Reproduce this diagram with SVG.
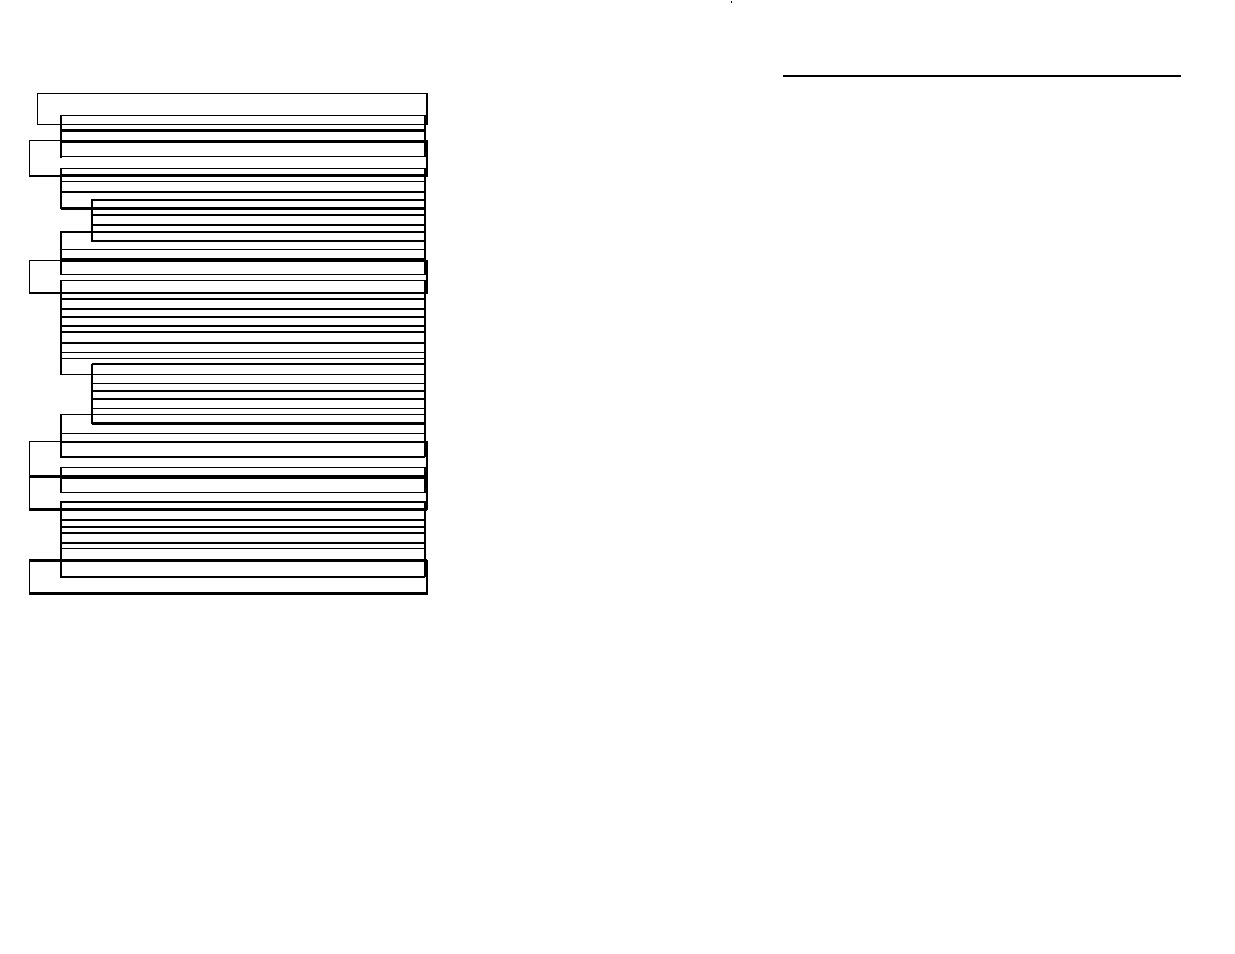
<svg xmlns="http://www.w3.org/2000/svg" width="1235" height="954" viewBox="0 0 1235 954" shape-rendering="crispEdges">
<style>
.bg{fill:#fff}
.l0{fill:none;stroke:#000;stroke-width:1.2}
.r0{fill:none;stroke:#000;stroke-width:2.5}
.blk{fill:none;stroke:#000;stroke-width:1.2}
.edge{fill:none;stroke:#000;stroke-width:2.2}
.t{stroke:#000;stroke-width:1.2}
.k{stroke:#000;stroke-width:2.2}
</style>
<rect class="bg" width="1235" height="954"/>
<g id="outer-groups">
<g id="group-a"><rect class="l0" x="37.5" y="93.5" width="389" height="31"/><line class="r0" x1="427" y1="93" x2="427" y2="125"/></g>
<g id="group-b"><rect class="l0" x="29.5" y="140.5" width="397" height="35.5"/><line class="r0" x1="427" y1="140" x2="427" y2="177"/><line class="k" x1="29" y1="176" x2="427" y2="176"/></g>
<g id="group-c"><rect class="l0" x="29.5" y="260.5" width="397" height="32.5"/><line class="r0" x1="427" y1="260" x2="427" y2="294"/><line class="k" x1="29" y1="293" x2="427" y2="293"/></g>
<g id="group-d"><rect class="l0" x="29.5" y="441.5" width="397" height="34.5"/><line class="r0" x1="427" y1="441" x2="427" y2="477"/></g>
<g id="group-e"><rect class="l0" x="29.5" y="476.5" width="397" height="33"/><line class="r0" x1="427" y1="476" x2="427" y2="510"/><line class="k" x1="29" y1="476.5" x2="427" y2="476.5"/><line class="k" x1="29" y1="509.5" x2="427" y2="509.5"/></g>
<g id="group-f"><rect class="l0" x="29.5" y="560.5" width="397" height="33"/><line class="r0" x1="427" y1="560" x2="427" y2="594"/><line class="k" x1="29" y1="560.5" x2="427" y2="560.5"/><line class="k" x1="29" y1="593.5" x2="428" y2="593.5"/></g>
</g>
<g id="block-1">
<rect class="blk" x="61" y="115.7" width="364" height="41"/><line class="edge" x1="61" y1="115" x2="61" y2="157.5"/>
<line class="t" x1="61" y1="124.3" x2="425" y2="124.3"/>
<line class="k" x1="61" y1="130.5" x2="425" y2="130.5"/>
<line class="k" x1="61" y1="141.5" x2="425" y2="141.5"/>
</g>
<g id="block-2">
<rect class="blk" x="61" y="168.3" width="364" height="40"/><line class="edge" x1="61" y1="167.7" x2="61" y2="209.3"/>
<line class="k" x1="61" y1="208.5" x2="92" y2="208.5"/>
<line class="k" x1="61" y1="175.5" x2="425" y2="175.5"/>
<line class="t" x1="61" y1="181.7" x2="425" y2="181.7"/>
<line class="k" x1="61" y1="191.7" x2="425" y2="191.7"/>
</g>
<g id="block-3">
<rect class="blk" x="92" y="200" width="333" height="41"/><line class="edge" x1="92" y1="199.2" x2="92" y2="241.5"/>
<line class="k" x1="92" y1="200" x2="425" y2="200"/>
<line class="k" x1="92" y1="208.5" x2="425" y2="208.5"/>
<line class="k" x1="92" y1="215" x2="425" y2="215"/>
<line class="k" x1="92" y1="225" x2="425" y2="225"/>
</g>
<g id="block-4">
<rect class="blk" x="61" y="231.7" width="364" height="42.5"/><line class="edge" x1="61" y1="231" x2="61" y2="275"/>
<line class="k" x1="61" y1="231.7" x2="425" y2="231.7"/>
<line class="t" x1="61" y1="249.3" x2="425" y2="249.3"/>
<line class="k" x1="61" y1="259.5" x2="425" y2="259.5"/>
<line class="k" x1="61" y1="261" x2="425" y2="261"/>
</g>
<g id="block-5">
<rect class="blk" x="61" y="280.5" width="364" height="94"/><line class="edge" x1="61" y1="280" x2="61" y2="375.3"/>
<line class="t" x1="61" y1="299" x2="425" y2="299"/>
<line class="k" x1="61" y1="309.3" x2="425" y2="309.3"/>
<line class="k" x1="61" y1="317.3" x2="425" y2="317.3"/>
<line class="k" x1="61" y1="326" x2="425" y2="326"/>
<line class="k" x1="61" y1="331.7" x2="425" y2="331.7"/>
<line class="k" x1="61" y1="342.7" x2="425" y2="342.7"/>
<line class="t" x1="61" y1="352.3" x2="425" y2="352.3"/>
<line class="t" x1="61" y1="358.3" x2="425" y2="358.3"/>
</g>
<g id="block-6">
<rect class="blk" x="92" y="364.3" width="333" height="59"/><line class="edge" x1="92" y1="363.5" x2="92" y2="424.3"/>
<line class="k" x1="92" y1="364.3" x2="425" y2="364.3"/>
<line class="t" x1="92" y1="383.3" x2="425" y2="383.3"/>
<line class="k" x1="92" y1="390.7" x2="425" y2="390.7"/>
<line class="k" x1="92" y1="398.7" x2="425" y2="398.7"/>
<line class="t" x1="92" y1="408.3" x2="425" y2="408.3"/>
<line class="k" x1="92" y1="423.5" x2="425" y2="423.5"/>
</g>
<g id="block-7">
<rect class="blk" x="61" y="414.3" width="364" height="42.5"/><line class="edge" x1="61" y1="413.5" x2="61" y2="457.8"/>
<line class="t" x1="61" y1="433.3" x2="425" y2="433.3"/>
<line class="k" x1="61" y1="442" x2="425" y2="442"/>
<line class="k" x1="61" y1="456.7" x2="425" y2="456.7"/>
</g>
<g id="block-8">
<rect class="blk" x="61" y="467.7" width="364" height="24.5"/><line class="edge" x1="61" y1="467" x2="61" y2="492.8"/>
<line class="k" x1="61" y1="477.7" x2="425" y2="477.7"/>
</g>
<g id="block-9">
<rect class="blk" x="61" y="501.7" width="364" height="75"/><line class="edge" x1="61" y1="501" x2="61" y2="577.7"/>
<line class="k" x1="61" y1="501.7" x2="425" y2="501.7"/>
<line class="t" x1="61" y1="520" x2="425" y2="520"/>
<line class="k" x1="61" y1="526.7" x2="425" y2="526.7"/>
<line class="k" x1="61" y1="532.7" x2="425" y2="532.7"/>
<line class="k" x1="61" y1="543.3" x2="425" y2="543.3"/>
<line class="t" x1="61" y1="548.3" x2="425" y2="548.3"/>
<line class="k" x1="61" y1="576.7" x2="425" y2="576.7"/>
</g>
<g id="connectors"/>
<g id="right-rule">
<line class="t" x1="783" y1="76" x2="1181" y2="76"/>
<line class="t" x1="731.5" y1="1" x2="731.5" y2="3"/>
</g>
</svg>
